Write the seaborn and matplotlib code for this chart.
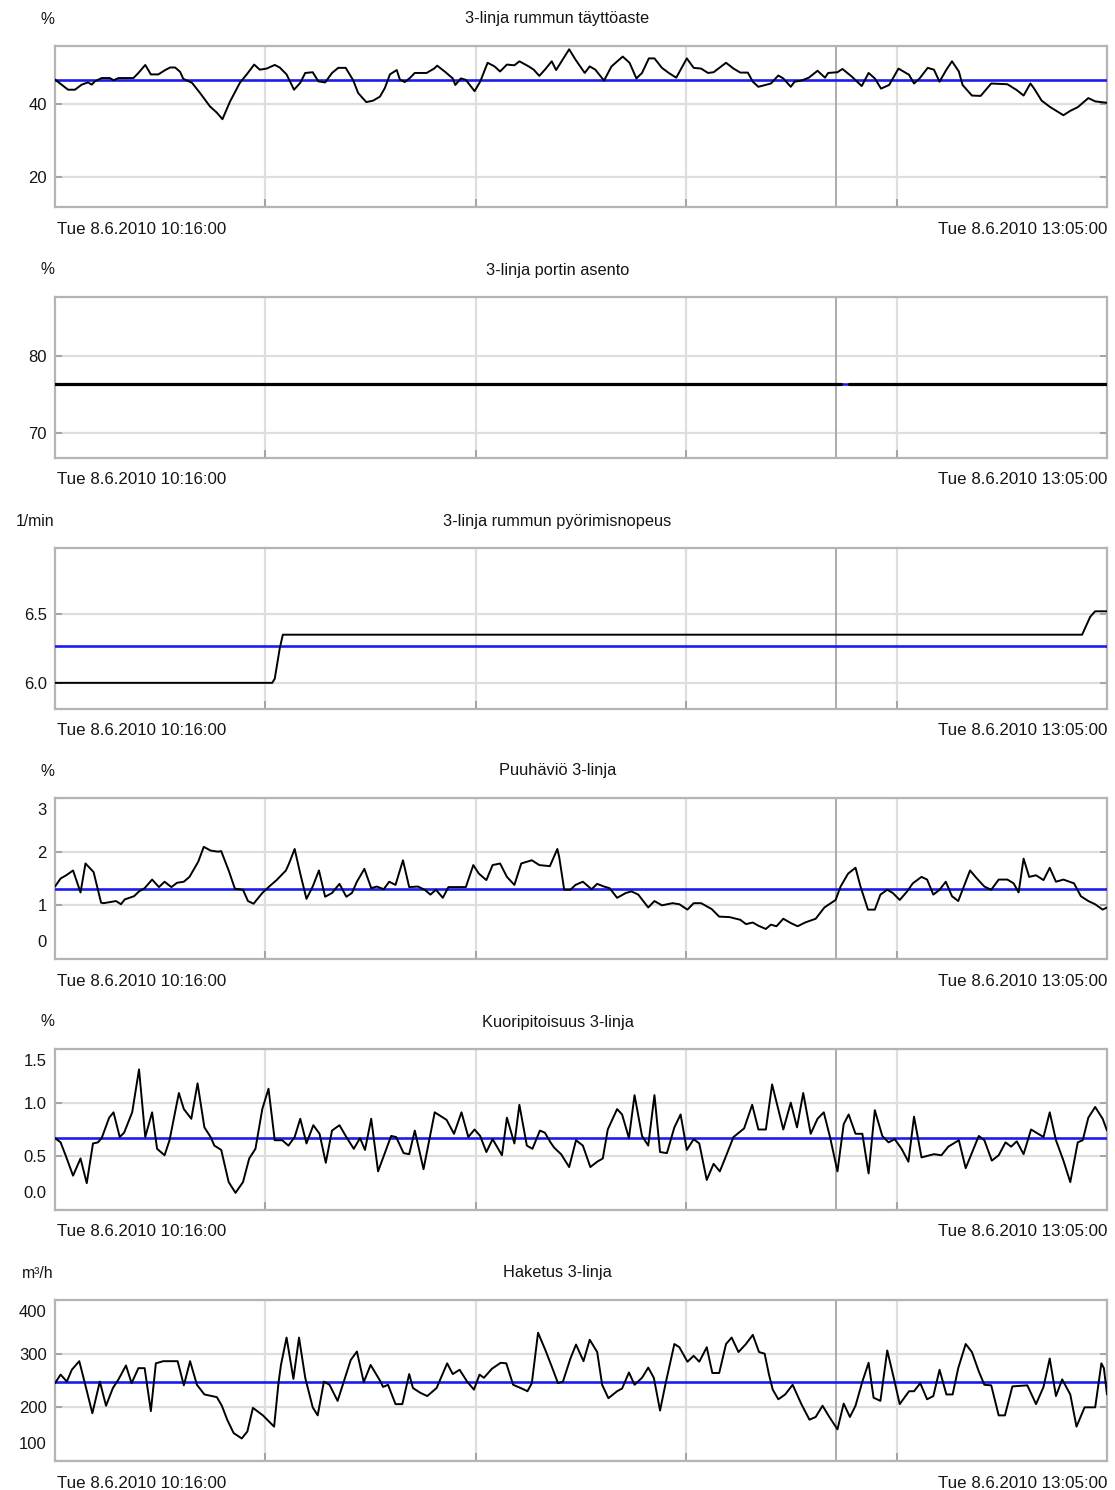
import matplotlib
matplotlib.use("Agg")
import matplotlib.pyplot as plt
import matplotlib.transforms as mtransforms
from matplotlib import font_manager
import seaborn as sns
import pandas as pd

# ---- data: (minutes after 10:16:00, value) ----
titles = ["3-linja rummun täyttöaste", "3-linja portin asento",
          "3-linja rummun pyörimisnopeus", "Puuhäviö 3-linja",
          "Kuoripitoisuus 3-linja", "Haketus 3-linja"]
units = ["%", "%", "1/min", "%", "%", "m³/h"]
start_label = "Tue 8.6.2010 10:16:00"
end_label = "Tue 8.6.2010 13:05:00"
span_minutes = 169
marker_minute = 125.5
reference_levels = [46.7, 76.3, 6.27, 1.30, 0.67, 247]

fill_pts = [(0, 46.7), (2.1, 43.9), (3.2, 43.9), (4.3, 45.3), (5.3, 45.9), (5.9, 45.3), (6.4, 46.2),
            (7.5, 47.1), (8.8, 47.1), (9.4, 46.5), (10.2, 47.1), (12.6, 47.1), (13.4, 48.5), (14.5, 50.7),
            (15.4, 48.1), (16.6, 48.1), (17.7, 49.3), (18.5, 50.0), (19.3, 50.0), (20.1, 48.8), (20.6, 46.9),
            (22.0, 45.8), (23.3, 43.0), (24.9, 39.3), (26.0, 37.6), (26.9, 35.8), (28.1, 40.6), (29.7, 45.8),
            (30.8, 48.1), (32.0, 50.8), (32.9, 49.4), (34.0, 49.7), (35.3, 50.7), (36.1, 50.0), (37.2, 48.1),
            (38.4, 43.9), (39.4, 45.8), (40.2, 48.5), (41.4, 48.7), (42.3, 46.2), (43.4, 45.9), (44.5, 48.5),
            (45.5, 49.9), (46.7, 49.9), (47.9, 46.5), (48.7, 43.0), (50.0, 40.5), (51.1, 40.9), (52.2, 42.0),
            (53.0, 44.4), (53.8, 48.1), (54.9, 49.3), (55.4, 46.7), (56.2, 46.0), (57.0, 47.1), (57.8, 48.5),
            (59.7, 48.5), (60.9, 49.7), (61.4, 50.5), (62.6, 48.9), (63.9, 47.0), (64.3, 45.2), (65.2, 47.0),
            (66.0, 46.6), (67.4, 43.5), (68.3, 46.1), (69.5, 51.3), (70.6, 50.3), (71.5, 48.9), (72.6, 50.8),
            (73.8, 50.6), (74.6, 51.7), (76.1, 50.3), (76.9, 49.4), (77.8, 47.7), (78.7, 49.4), (79.8, 51.7),
            (80.5, 49.3), (82.6, 55.0), (83.6, 52.2), (85.1, 48.5), (85.9, 50.3), (86.8, 49.4), (88.2, 46.4),
            (89.4, 50.3), (91.2, 53.0), (92.3, 51.3), (93.4, 47.0), (94.3, 48.5), (95.4, 52.5), (96.3, 52.5),
            (97.5, 49.9), (98.6, 48.5), (99.8, 47.2), (101.5, 52.5), (102.6, 49.9), (103.8, 49.7), (104.9, 48.5),
            (105.8, 48.7), (107.8, 51.3), (109.0, 49.7), (110.1, 48.6), (111.3, 48.6), (112.1, 46.1), (113.0, 44.7),
            (115.0, 45.6), (116.2, 47.8), (117.0, 47.0), (118.2, 44.7), (118.8, 46.1), (119.9, 46.4), (121.1, 47.2),
            (122.5, 49.1), (123.7, 47.2), (124.2, 48.5), (125.7, 48.7), (126.5, 49.6), (128.0, 47.5), (129.6, 44.9),
            (130.7, 48.5), (131.7, 47.0), (132.7, 44.2), (134.0, 45.2), (135.5, 49.7), (136.3, 48.9), (137.2, 48.0),
            (138.0, 45.6), (138.9, 47.0), (140.2, 49.9), (141.2, 49.4), (142.1, 46.1), (143.2, 49.4), (144.1, 51.7),
            (145.2, 48.9), (145.8, 45.2), (147.3, 42.3), (148.7, 42.2), (150.4, 45.6), (153.0, 45.4), (154.5, 43.8),
            (155.6, 42.3), (156.7, 45.6), (157.3, 44.2), (158.5, 40.9), (159.9, 39.1), (162.0, 36.9), (163.1, 38.1),
            (164.3, 39.1), (166.0, 41.6), (167.1, 40.7), (169.0, 40.3)]

gate_pts = [(0, 76.3), (126.3, 76.3), (127.6, 76.3), (169, 76.3)]
gate_runs = [0, 0, 1, 1]

speed_pts = [(0, 6.0), (34.9, 6.0), (35.3, 6.03), (36.1, 6.25), (36.6, 6.35), (165.0, 6.35),
             (166.3, 6.48), (167.1, 6.52), (169, 6.52)]

loss_pts = [(0, 1.35), (0.9, 1.50), (1.8, 1.56), (2.9, 1.65), (4.1, 1.24), (4.9, 1.78), (6.2, 1.62),
            (7.4, 1.05), (7.8, 1.04), (9.8, 1.08), (10.6, 1.02), (11.2, 1.11), (12.7, 1.17), (13.5, 1.26),
            (14.4, 1.32), (15.6, 1.48), (16.7, 1.34), (17.6, 1.44), (18.7, 1.34), (19.6, 1.42), (20.7, 1.44),
            (21.6, 1.53), (23.0, 1.81), (23.9, 2.09), (25.0, 2.02), (26.2, 2.00), (26.7, 2.01), (27.9, 1.65),
            (28.9, 1.31), (30.2, 1.29), (31.0, 1.08), (31.9, 1.03), (33.3, 1.23), (34.5, 1.36), (35.6, 1.47),
            (37.1, 1.65), (37.6, 1.78), (38.5, 2.05), (39.4, 1.59), (40.4, 1.12), (41.4, 1.35), (42.4, 1.65),
            (43.4, 1.16), (44.5, 1.23), (45.7, 1.40), (46.8, 1.16), (47.7, 1.23), (48.5, 1.44), (49.7, 1.68),
            (50.8, 1.32), (51.7, 1.35), (52.8, 1.30), (53.7, 1.44), (54.7, 1.38), (55.9, 1.84), (56.9, 1.34),
            (58.3, 1.35), (59.4, 1.29), (60.3, 1.20), (61.2, 1.29), (62.3, 1.14), (63.2, 1.34), (66.0, 1.34),
            (67.2, 1.75), (68.1, 1.59), (69.3, 1.47), (70.3, 1.75), (71.5, 1.78), (72.6, 1.53), (73.8, 1.38),
            (74.9, 1.78), (76.6, 1.84), (77.8, 1.75), (79.5, 1.73), (80.7, 2.05), (81.0, 1.90), (81.8, 1.29),
            (82.8, 1.29), (83.6, 1.38), (84.8, 1.44), (86.2, 1.30), (87.1, 1.40), (88.2, 1.35), (89.1, 1.32),
            (90.3, 1.14), (91.7, 1.23), (92.6, 1.26), (93.7, 1.20), (95.3, 0.96), (96.3, 1.08), (97.5, 1.00),
            (99.2, 1.04), (100.3, 1.02), (101.6, 0.92), (102.6, 1.04), (103.8, 1.04), (105.5, 0.93), (106.7, 0.79),
            (108.4, 0.78), (110.1, 0.73), (111.0, 0.65), (112.1, 0.68), (113.0, 0.62), (114.2, 0.56), (115.0, 0.64),
            (115.9, 0.61), (117.0, 0.75), (118.2, 0.67), (119.3, 0.61), (120.5, 0.68), (122.2, 0.75), (123.6, 0.96),
            (125.4, 1.10), (126.2, 1.35), (127.4, 1.59), (128.6, 1.70), (129.4, 1.35), (130.6, 0.92), (131.7, 0.92),
            (132.6, 1.20), (133.7, 1.29), (134.6, 1.23), (135.7, 1.10), (136.9, 1.26), (137.8, 1.41), (139.2, 1.53),
            (140.1, 1.48), (141.1, 1.20), (142.1, 1.29), (143.1, 1.44), (144.1, 1.17), (145.1, 1.08), (145.8, 1.29),
            (147.0, 1.65), (148.1, 1.50), (149.3, 1.35), (150.4, 1.29), (151.6, 1.48), (153.0, 1.48), (154.0, 1.41),
            (154.8, 1.24), (155.6, 1.87), (156.5, 1.53), (157.6, 1.56), (158.8, 1.47), (159.8, 1.70), (160.8, 1.44),
            (162.0, 1.48), (163.7, 1.41), (164.8, 1.17), (166.0, 1.08), (167.1, 1.02), (168.3, 0.92), (169.0, 0.96)]

bark_pts = [(0, 0.67), (0.9, 0.63), (1.7, 0.51), (2.9, 0.32), (4.1, 0.48), (5.1, 0.25), (6.1, 0.62),
            (6.9, 0.63), (7.5, 0.67), (8.7, 0.86), (9.4, 0.91), (10.4, 0.68), (11.1, 0.72), (12.4, 0.91),
            (13.5, 1.31), (14.5, 0.68), (15.6, 0.91), (16.4, 0.57), (17.6, 0.51), (18.4, 0.65), (19.9, 1.09),
            (20.7, 0.94), (21.9, 0.85), (22.9, 1.18), (24.0, 0.77), (25.0, 0.68), (25.6, 0.60), (26.7, 0.56),
            (27.9, 0.26), (29.0, 0.16), (30.2, 0.26), (31.2, 0.48), (32.2, 0.57), (33.3, 0.94), (34.3, 1.13),
            (35.3, 0.65), (36.5, 0.65), (37.5, 0.60), (38.5, 0.68), (39.4, 0.85), (40.4, 0.62), (41.5, 0.79),
            (42.5, 0.71), (43.5, 0.44), (44.5, 0.74), (45.7, 0.79), (46.8, 0.68), (48.0, 0.57), (49.0, 0.67),
            (49.8, 0.56), (50.8, 0.85), (51.9, 0.36), (54.0, 0.69), (54.8, 0.68), (56.0, 0.53), (56.9, 0.52),
            (57.8, 0.74), (59.2, 0.38), (61.0, 0.91), (62.9, 0.84), (64.1, 0.71), (65.3, 0.91), (66.4, 0.68),
            (67.4, 0.75), (68.3, 0.69), (69.3, 0.54), (70.3, 0.66), (71.8, 0.51), (72.6, 0.86), (73.8, 0.62),
            (74.6, 0.98), (75.8, 0.60), (76.7, 0.57), (77.9, 0.74), (78.7, 0.72), (79.6, 0.63), (80.2, 0.58),
            (81.3, 0.52), (82.6, 0.40), (83.7, 0.65), (84.8, 0.60), (86.0, 0.40), (87.1, 0.45), (88.0, 0.48),
            (88.8, 0.75), (90.3, 0.94), (91.1, 0.89), (92.2, 0.67), (93.1, 1.07), (94.3, 0.69), (95.3, 0.60),
            (96.3, 1.07), (97.2, 0.54), (98.3, 0.53), (99.5, 0.77), (100.5, 0.89), (101.5, 0.56), (102.6, 0.66),
            (103.5, 0.62), (104.7, 0.28), (105.8, 0.43), (106.8, 0.36), (107.5, 0.46), (109.0, 0.68), (110.7, 0.76),
            (112.0, 0.98), (113.0, 0.75), (114.2, 0.75), (115.2, 1.17), (117.0, 0.75), (118.2, 1.00), (119.2, 0.77),
            (120.2, 1.09), (121.4, 0.71), (122.5, 0.85), (123.5, 0.91), (124.5, 0.68), (125.7, 0.36), (126.7, 0.80),
            (127.5, 0.89), (128.6, 0.71), (129.7, 0.71), (130.7, 0.34), (131.7, 0.93), (132.9, 0.69), (133.9, 0.63),
            (134.9, 0.66), (136.0, 0.57), (137.1, 0.45), (138.0, 0.87), (139.2, 0.49), (141.2, 0.52), (142.4, 0.51),
            (143.5, 0.59), (145.2, 0.65), (146.3, 0.39), (148.4, 0.69), (149.3, 0.65), (150.5, 0.46), (151.6, 0.51),
            (152.7, 0.63), (153.6, 0.59), (154.5, 0.64), (155.6, 0.52), (156.8, 0.75), (158.8, 0.68), (159.8, 0.91),
            (160.8, 0.65), (162.0, 0.46), (163.1, 0.26), (164.3, 0.63), (165.1, 0.65), (166.0, 0.86), (167.1, 0.96),
            (168.3, 0.85), (169.0, 0.74)]

chip_pts = [(0, 245), (0.9, 261), (1.9, 248), (2.7, 270), (3.9, 286), (4.8, 245), (6.0, 189), (7.2, 248),
            (8.2, 203), (9.3, 236), (10.2, 252), (11.4, 278), (12.3, 245), (13.4, 273), (14.4, 273), (15.4, 193),
            (16.2, 282), (17.4, 286), (19.7, 286), (20.7, 241), (21.7, 286), (22.8, 242), (24.0, 224), (26.0, 219),
            (26.8, 203), (27.7, 176), (28.7, 152), (30.0, 142), (30.9, 155), (31.8, 199), (33.4, 185), (35.2, 164),
            (35.9, 245), (36.3, 279), (37.2, 330), (38.3, 253), (39.2, 330), (40.2, 255), (41.4, 200), (42.2, 185),
            (43.2, 248), (44.1, 242), (45.4, 212), (46.4, 248), (47.5, 288), (48.5, 304), (49.6, 247), (50.7, 279),
            (52.3, 248), (52.7, 238), (53.5, 242), (54.7, 206), (55.8, 206), (56.9, 262), (57.5, 236), (58.7, 227),
            (59.8, 221), (61.3, 236), (63.0, 282), (63.9, 262), (65.0, 270), (66.2, 248), (67.3, 233), (68.2, 261),
            (68.9, 255), (70.2, 272), (71.6, 283), (72.5, 282), (73.6, 242), (75.0, 235), (75.9, 230), (76.6, 245),
            (77.6, 339), (78.8, 306), (79.9, 273), (80.8, 245), (81.6, 248), (82.8, 291), (83.7, 317), (84.9, 286),
            (85.9, 326), (87.1, 303), (87.9, 242), (88.9, 217), (90.3, 230), (91.1, 235), (92.2, 265), (93.1, 242),
            (94.3, 255), (95.3, 274), (96.2, 255), (97.2, 194), (98.1, 245), (99.5, 318), (100.3, 312), (101.6, 285),
            (102.6, 296), (103.5, 285), (104.7, 312), (105.6, 264), (106.7, 264), (107.8, 318), (108.7, 330),
            (109.8, 303), (111.0, 318), (112.1, 335), (113.1, 303), (114.0, 300), (114.7, 261), (115.3, 233),
            (116.2, 215), (117.3, 224), (118.5, 242), (119.9, 206), (121.2, 177), (122.2, 182), (123.3, 203),
            (124.4, 182), (125.7, 159), (126.7, 207), (127.7, 182), (128.6, 203), (129.7, 248), (130.7, 283),
            (131.5, 218), (132.6, 212), (133.7, 306), (134.8, 252), (135.7, 206), (137.2, 230), (138.0, 230),
            (139.0, 245), (140.1, 215), (141.1, 221), (142.1, 270), (143.2, 224), (144.2, 224), (145.1, 273),
            (146.3, 318), (147.3, 303), (148.4, 267), (149.3, 242), (150.4, 241), (151.6, 185), (152.6, 185),
            (153.8, 239), (156.2, 241), (157.6, 206), (158.8, 238), (159.8, 291), (160.8, 221), (161.8, 252),
            (163.1, 224), (164.1, 164), (165.4, 200), (167.1, 200), (168.1, 282), (168.5, 273), (169.0, 224)]

y_limits = [(11.7, 55.9), (66.8, 87.6), (5.81, 6.98), (0, 3), (0, 1.5), (100, 400)]
y_ticks = [[20, 40], [70, 80], [6.0, 6.5], [0, 1, 2, 3], [0.0, 0.5, 1.0, 1.5], [100, 200, 300, 400]]
y_fmt = ["{:.0f}", "{:.0f}", "{:.1f}", "{:.0f}", "{:.1f}", "{:.0f}"]


def frame(points, runs=None):
    df = pd.DataFrame(points, columns=["minute", "value"])
    df["run"] = runs if runs is not None else 0
    return df


series = [frame(fill_pts), frame(gate_pts, gate_runs), frame(speed_pts),
          frame(loss_pts), frame(bark_pts), frame(chip_pts)]

# ---- styling ----
sns.set_theme(style="white")
available = {f.name for f in font_manager.fontManager.ttflist}
narrow = next((n for n in ["Liberation Sans Narrow", "DejaVu Sans Condensed", "Liberation Sans"]
               if n in available), "DejaVu Sans")
plt.rcParams["font.family"] = [narrow, "DejaVu Sans"]

W, H = 1115, 1490
fig = plt.figure(figsize=(W / 100, H / 100), dpi=100)
fig.patch.set_facecolor("white")

box_left, box_width, box_height = 55, 1052, 161
box_tops = [46, 297, 548, 798, 1049, 1300]
grid_minutes = [span_minutes * k / 5 for k in range(1, 5)]
date_size = 12.2
title_size = 11.8
tick_size = 12.0
ink = "#151515"

for i, df in enumerate(series):
    top = box_tops[i]
    ax = fig.add_axes([box_left / W, 1 - (top + box_height) / H, box_width / W, box_height / H])
    ax.set_xlim(0, span_minutes)
    ax.set_ylim(*y_limits[i])
    ax.set_xticks(grid_minutes)
    ax.set_xticklabels([])
    ax.set_yticks(y_ticks[i])
    ax.set_yticklabels([y_fmt[i].format(v) for v in y_ticks[i]])
    ax.grid(True, color="#dedede", lw=1.6, zorder=0)
    ax.axvline(marker_minute, color="#a6a6a6", lw=1.3, zorder=1)
    ax.axhline(reference_levels[i], color="#1c1cf0", lw=1.9, zorder=3)
    line_w = 2.3 if i == 1 else 1.4
    sns.lineplot(data=df, x="minute", y="value", units="run", estimator=None,
                 color="black", lw=line_w, ax=ax, zorder=4)
    ax.set_xlabel("")
    ax.set_ylabel("")
    for s in ax.spines.values():
        s.set_color("#b4b4b4")
        s.set_linewidth(1.6)
    ax.tick_params(axis="y", direction="in", length=5, width=1.2, color="#9a9a9a",
                   left=True, right=True, labelsize=tick_size, pad=6, labelcolor=ink)
    ax.tick_params(axis="x", direction="in", length=6, width=1.2, color="#9a9a9a", bottom=True)
    # edge labels sit just inside the plot box
    lo, hi = y_limits[i]
    for val, lab in zip(y_ticks[i], ax.get_yticklabels()):
        if abs(val - hi) < 1e-9:
            lab.set_transform(lab.get_transform() +
                              mtransforms.ScaledTranslation(0, -11 / 100, fig.dpi_scale_trans))
        elif abs(val - lo) < 1e-9:
            lab.set_transform(lab.get_transform() +
                              mtransforms.ScaledTranslation(0, 18 / 100, fig.dpi_scale_trans))

    ytitle = 1 - (top - 27) / H
    fig.text(0.5, ytitle, titles[i], ha="center", va="center", fontsize=title_size, color=ink)
    fig.text(54 / W, ytitle, units[i], ha="right", va="center", fontsize=title_size - 0.5, color=ink)
    ydate = 1 - (top + box_height + 22) / H
    fig.text(57 / W, ydate, start_label, ha="left", va="center", fontsize=date_size, color=ink)
    fig.text(1107 / W, ydate, end_label, ha="right", va="center", fontsize=date_size, color=ink)

fig.savefig("out.png", dpi=100, facecolor="white")
